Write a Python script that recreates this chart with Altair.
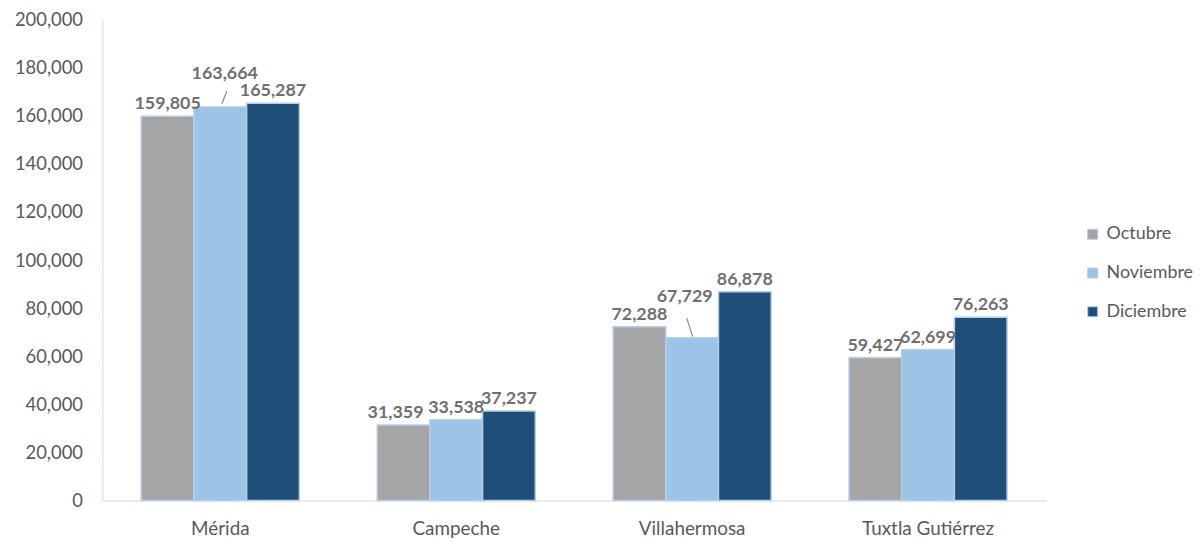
import altair as alt
import pandas as pd

cities = ["Mérida", "Campeche", "Villahermosa", "Tuxtla Gutiérrez"]
months = ["Octubre", "Noviembre", "Diciembre"]
octubre = [159805, 31359, 72288, 59427]
noviembre = [163664, 33538, 67729, 62699]
diciembre = [165287, 37237, 86878, 76263]
colors = ["#a5a5a5", "#9dc3e6", "#1f4e79"]
y_ticks = list(range(0, 200001, 20000))

rows = []
for m, vals in zip(months, [octubre, noviembre, diciembre]):
    for c, v in zip(cities, vals):
        rows.append({"city": c, "month": m, "value": v})
df = pd.DataFrame(rows)

FONT = "Lato"
TXT = "#595959"

x = alt.X("city:N", sort=cities,
          scale=alt.Scale(paddingInner=0.33, paddingOuter=0.165),
          axis=alt.Axis(title=None, labelAngle=0, labelFontSize=19, labelColor=TXT,
                        labelPadding=19, ticks=False, domainColor="#d9d9d9",
                        labelFont=FONT))
xo = alt.XOffset("month:N", sort=months, scale=alt.Scale(paddingInner=0, paddingOuter=0))
y = alt.Y("value:Q", scale=alt.Scale(domain=[0, 200000], nice=False),
          axis=alt.Axis(title=None, values=y_ticks, format=",d", grid=False, ticks=False,
                        labelPadding=20, labelFontSize=18.5, labelColor=TXT,
                        domainColor="#d9d9d9", labelFont=FONT))
color = alt.Color("month:N", sort=months,
                  scale=alt.Scale(domain=months, range=colors),
                  legend=alt.Legend(title=None, orient="none", legendX=988, legendY=207,
                                    symbolType="square", symbolSize=100,
                                    labelFontSize=18, labelColor=TXT, labelFont=FONT,
                                    rowPadding=21, labelOffset=5, padding=0,
                                    symbolStrokeColor="#b4cde9", symbolStrokeWidth=1))

base = alt.Chart(df)

bars = base.mark_bar(stroke="#b4cde9", strokeWidth=1.5).encode(x=x, xOffset=xo, y=y, color=color)

is_mn = "(datum.city == 'Mérida' && datum.month == 'Noviembre')"
is_vn = "(datum.city == 'Villahermosa' && datum.month == 'Noviembre')"
is_co = "(datum.city == 'Campeche' && datum.month == 'Octubre')"

lbl_kw = dict(fontSize=18, fontWeight="bold", color="#6f6f6f", font=FONT, baseline="middle")
txt = alt.Text("value:Q", format=",d")

labels = base.mark_text(dy=-12, **lbl_kw).encode(
    x=x, xOffset=xo, y=y, text=txt
).transform_filter(f"!{is_mn} && !{is_vn} && !{is_co}")

lab_co = base.mark_text(dx=-8, dy=-12, **lbl_kw).encode(
    x=x, xOffset=xo, y=y, text=txt
).transform_filter(is_co)

lab_mn = base.mark_text(dx=4.5, dy=-33, **lbl_kw).encode(
    x=x, y=y, text=txt
).transform_filter(is_mn)

lab_vn = base.mark_text(dx=-7.5, dy=-41, **lbl_kw).encode(
    x=x, y=y, text=txt
).transform_filter(is_vn)

rule_mn = base.mark_rule(color="#8c8c8c", strokeWidth=1.2, xOffset=1.5, x2Offset=6.5,
                         yOffset=-3, y2Offset=-16).encode(
    x=x, x2=alt.X2("city:N"), y=y, y2=alt.Y2("value:Q")
).transform_filter(is_mn)

rule_vn = base.mark_rule(color="#8c8c8c", strokeWidth=1.2, xOffset=0.5, x2Offset=-5.5,
                         yOffset=-1, y2Offset=-20).encode(
    x=x, x2=alt.X2("city:N"), y=y, y2=alt.Y2("value:Q")
).transform_filter(is_vn)

chart = alt.layer(bars, labels, lab_co, lab_mn, lab_vn, rule_mn, rule_vn).properties(
    width=950, height=484,
    autosize=alt.AutoSizeParams(type="none"),
    padding={"left": 95, "top": 10, "right": 151, "bottom": 40},
).configure(font=FONT).configure_view(stroke=None)

chart.save("out.html", embed_options={"renderer": "svg", "actions": False})
